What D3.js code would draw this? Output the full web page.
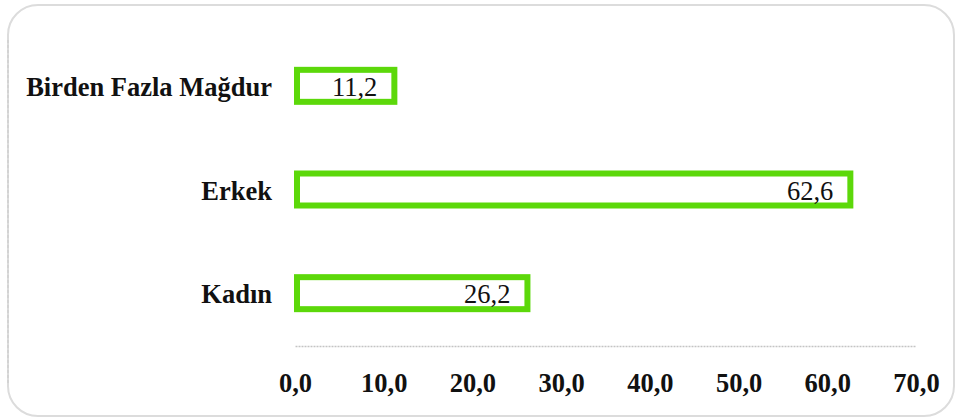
<!DOCTYPE html>
<html>
<head>
<meta charset="utf-8">
<script src="https://cdn.jsdelivr.net/npm/d3@7"></script>
<style>
  html, body { margin: 0; padding: 0; background: #fff; }
  svg { display: block; }
  text { font-family: "Liberation Serif", "Times New Roman", serif; fill: #111; }
</style>
</head>
<body>
<svg id="chart" width="960" height="420"></svg>
<script>
const categories = ["Birden Fazla Mağdur", "Erkek", "Kadın"];
const values = [11.2, 62.6, 26.2];
const tickValues = [0, 10, 20, 30, 40, 50, 60, 70];

const svg = d3.select("#chart");
const W = 960, H = 420;
const green = "#5cd80a";
const fmt = v => d3.format(".1f")(v).replace(".", ",");

// outer card
svg.append("rect")
  .attr("x", 8).attr("y", 5).attr("width", 946).attr("height", 411)
  .attr("rx", 30).attr("ry", 30)
  .attr("fill", "#fff").attr("stroke", "#dcdcdc").attr("stroke-width", 2);
svg.append("line")
  .attr("x1", 8).attr("x2", 8).attr("y1", 40).attr("y2", 385)
  .attr("stroke", "#cfcfcf").attr("stroke-width", 1.5).attr("stroke-dasharray", "3,2");

const x = d3.scaleLinear().domain([0, 70]).range([295, 916]);
const y = d3.scalePoint().domain(categories).range([34, 345]).padding(0.5);

const barH = 32;

// axis
const axisY = 346;
const axisG = svg.append("g")
  .attr("transform", `translate(0,${axisY})`)
  .call(d3.axisBottom(x).tickValues(tickValues).tickFormat(fmt).tickSize(0).tickSizeOuter(0));
axisG.select(".domain")
  .attr("stroke", "#c4c4c4").attr("stroke-width", 1.5).attr("stroke-dasharray", "2,1");
axisG.selectAll(".tick text")
  .attr("y", 46).attr("dy", 0)
  .style("font-family", '"Liberation Serif", "Times New Roman", serif')
  .style("font-size", "26.5px").style("font-weight", "bold").attr("fill", "#111");

// bars
const rows = categories.map((c, i) => ({ c, v: values[i] }));
svg.selectAll("rect.bar").data(rows).enter().append("rect")
  .attr("class", "bar")
  .attr("x", x(0) + 2)
  .attr("y", d => y(d.c) - barH / 2)
  .attr("width", d => x(d.v) - x(0) - 2)
  .attr("height", barH)
  .attr("fill", "#fff")
  .attr("stroke", green)
  .attr("stroke-width", 6);

// value labels
svg.selectAll("text.val").data(rows).enter().append("text")
  .attr("class", "val")
  .attr("x", d => x(d.v) - 17)
  .attr("y", d => y(d.c) + 10)
  .attr("text-anchor", "end")
  .style("font-size", "26.5px")
  .text(d => fmt(d.v));

// category labels
svg.selectAll("text.cat").data(rows).enter().append("text")
  .attr("class", "cat")
  .attr("x", 272)
  .attr("y", d => y(d.c) + 10)
  .attr("text-anchor", "end")
  .style("font-size", "26.5px").style("font-weight", "bold")
  .text(d => d.c);
</script>
</body>
</html>
